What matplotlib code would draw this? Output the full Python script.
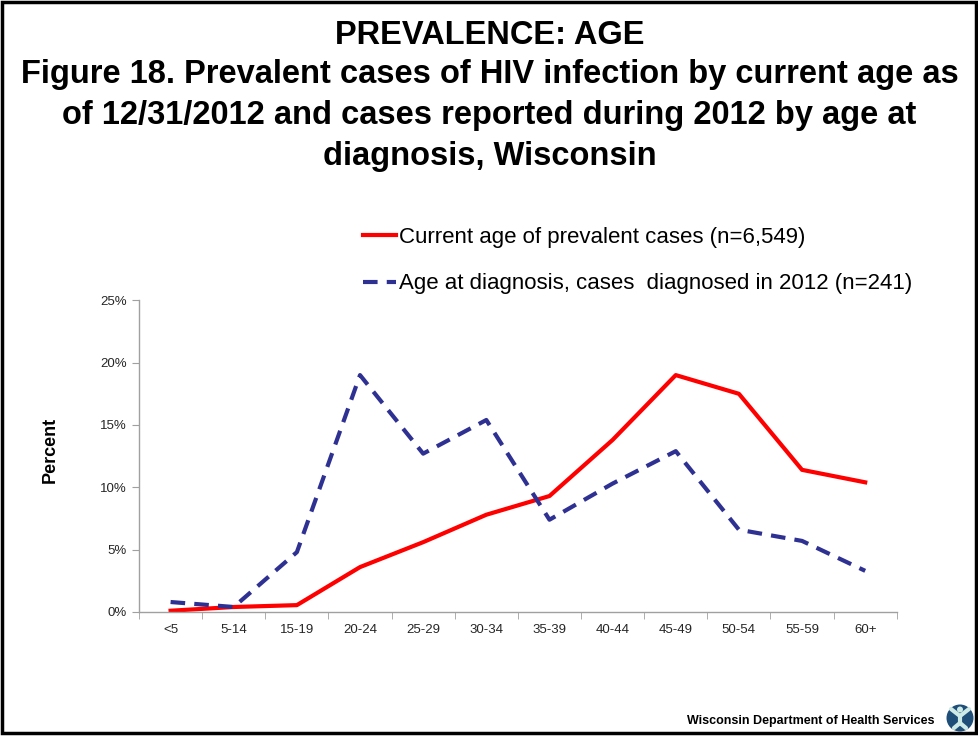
import numpy as np
import matplotlib
matplotlib.use("Agg")
import matplotlib.pyplot as plt
from matplotlib.patches import Rectangle, Circle
from matplotlib.lines import Line2D
from matplotlib.ticker import FuncFormatter, FixedLocator

plt.rcParams['font.family'] = ['Liberation Sans', 'DejaVu Sans']

age_groups = ["<5", "5-14", "15-19", "20-24", "25-29", "30-34",
              "35-39", "40-44", "45-49", "50-54", "55-59", "60+"]

# percent of prevalent cases by current age (n=6,549)
prevalent_pct = [0.1, 0.4, 0.55, 3.6, 5.6, 7.8, 9.3, 13.8, 19.0, 17.5, 11.4, 10.4]
# percent of 2012 diagnoses by age at diagnosis (n=241)
diagnosed_pct = [0.8, 0.4, 4.8, 19.0, 12.7, 15.4, 7.4, 10.3, 12.9, 6.6, 5.7, 3.3]

label_prev = "Current age of prevalent cases (n=6,549)"
label_diag = "Age at diagnosis, cases  diagnosed in 2012 (n=241)"

fig = plt.figure(figsize=(9.79, 7.36), dpi=100)
ax = fig.add_axes([0.142, 0.1685, 0.774, 0.4235])

x = np.arange(len(age_groups))
ax.plot(x, prevalent_pct, color="#ff0000", linewidth=3, label=label_prev)
ax.plot(x, diagnosed_pct, color="#2e3192", linewidth=3, linestyle=(0, (3.5, 2.2)),
        label=label_diag)

ax.set_xlim(-0.5, len(age_groups) - 0.5)
ax.set_ylim(0, 25)
ax.set_xticks(x)
ax.set_xticklabels(age_groups, fontsize=9.5)
ax.xaxis.set_minor_locator(FixedLocator(np.arange(-0.5, len(age_groups), 1.0)))
ax.tick_params(axis="x", which="major", length=0, pad=9)
ax.tick_params(axis="x", which="minor", length=5, color="#a0a0a0")
ax.set_yticks(np.arange(0, 26, 5))
ax.yaxis.set_major_formatter(FuncFormatter(lambda v, p: f"{v:.0f}%"))
ax.tick_params(axis="y", length=5, color="#a0a0a0", labelsize=9.5, pad=4)
for lab in ax.get_xticklabels() + ax.get_yticklabels():
    lab.set_color("#262626")

for side in ["top", "right"]:
    ax.spines[side].set_visible(False)
for side in ["left", "bottom"]:
    ax.spines[side].set_color("#a0a0a0")
    ax.spines[side].set_linewidth(1)

ax.set_ylabel("Percent", fontsize=13, fontweight="bold")
ax.yaxis.set_label_coords(-0.106, 0.52)

fig.legend(loc="upper left", bbox_to_anchor=(0.362, 0.704), frameon=False,
           fontsize=16, handlelength=1.45, handletextpad=0.15,
           labelspacing=1.15, borderaxespad=0)

# titles
fig.text(0.5, 0.952, "PREVALENCE: AGE", ha="center", va="center",
         fontsize=23.5, fontweight="bold")
fig.text(0.5, 0.8435,
         "Figure 18. Prevalent cases of HIV infection by current age as\n"
         "of 12/31/2012 and cases reported during 2012 by age at\n"
         "diagnosis, Wisconsin",
         ha="center", va="center", fontsize=23.5, fontweight="bold",
         linespacing=1.42)

# footer
fig.text(0.955, 0.021, "Wisconsin Department of Health Services", ha="right",
         va="center", fontsize=9, fontweight="bold")

# department logo, drawn in inches so the circle stays round
tr = fig.dpi_scale_trans
fig.patches.append(Circle((9.60, 0.18), 0.135, transform=tr,
                          facecolor="#1f4e79", edgecolor="none"))
fig.patches.append(Circle((9.60, 0.265), 0.03, transform=tr,
                          facecolor="#cdeae6", edgecolor="none"))
for xs, ys in [([9.51, 9.60, 9.69], [0.27, 0.20, 0.27]),
               ([9.60, 9.60], [0.20, 0.12]),
               ([9.54, 9.60, 9.66], [0.08, 0.13, 0.08])]:
    fig.lines.append(Line2D(xs, ys, transform=tr, color="#cdeae6",
                            linewidth=3, solid_capstyle="round"))

# outer frame
fig.patches.append(Rectangle((0.002, 0.004), 0.995, 0.993, transform=fig.transFigure,
                             fill=False, edgecolor="black", linewidth=2.5))

fig.savefig("out.png", dpi=100)
